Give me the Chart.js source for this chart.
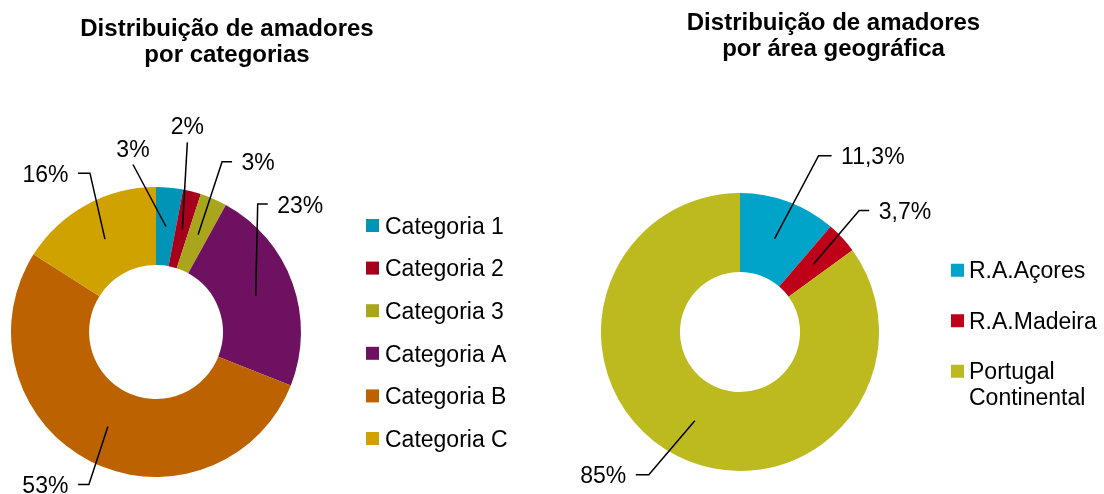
<!DOCTYPE html>
<html>
<head>
<meta charset="utf-8">
<script src="https://cdn.jsdelivr.net/npm/chart.js@4.4.1/dist/chart.umd.min.js"></script>
<style>
  html, body { margin: 0; padding: 0; background: #fff; overflow: hidden; }
  #wrap { position: relative; width: 1104px; height: 494px; overflow: hidden; }
  canvas { position: absolute; top: 0; }
  #catChart { left: -106px; }
  #geoChart { left: 563px; }
</style>
</head>
<body>
<div id="wrap">
  <canvas id="catChart" width="666" height="494"></canvas>
  <canvas id="geoChart" width="541" height="494"></canvas>
</div>
<script>
const FONT = "'Liberation Sans', Arial, sans-serif";

const catLabels = ["Categoria 1", "Categoria 2", "Categoria 3", "Categoria A", "Categoria B", "Categoria C"];
const catValues = [3, 2, 3, 23, 53, 16];
const catColors = ["#0095B7", "#A6001C", "#A9A61E", "#6E1160", "#BC6200", "#D0A200"];

const geoLabels = ["R.A.Açores", "R.A.Madeira", "Portugal Continental"];
const geoValues = [11.3, 3.7, 85];
const geoColors = ["#00A4C8", "#BE0018", "#BDBA20"];

// label leaders: elbow offset from the slice middle, then a horizontal tail (0 = label sits on top)
const catLeaders = [[-33, -62, 0], [5, -87, 0], [24, -73, 10], [2, -92, 10], [-19, 58, -11], [-15, -66, -12]];
const geoLeaders = [[44, -83, 13], [46, -54, 10], [-46, 54, -13]];

const pct = v => String(v).replace(".", ",") + "%";

const leaderLabels = {
  id: "leaders",
  afterDatasetsDraw(chart, args, opts) {
    const ctx = chart.ctx;
    const meta = chart.getDatasetMeta(0);
    const values = chart.data.datasets[0].data;
    ctx.save();
    ctx.strokeStyle = "#000";
    ctx.fillStyle = "#000";
    ctx.lineWidth = 1.5;
    ctx.font = "23px " + FONT;
    ctx.textBaseline = "alphabetic";
    meta.data.forEach((arc, i) => {
      const p = arc.getProps(["x", "y", "startAngle", "endAngle", "innerRadius", "outerRadius"], true);
      const mid = (p.startAngle + p.endAngle) / 2;
      const r = (p.innerRadius + p.outerRadius) / 2;
      const ax = p.x + Math.cos(mid) * r;
      const ay = p.y + Math.sin(mid) * r;
      const [dx, dy, tail] = opts.offsets[i];
      const ex = ax + dx, ey = ay + dy;
      ctx.beginPath();
      ctx.moveTo(ax, ay);
      ctx.lineTo(ex, ey);
      if (tail === 0) {
        ctx.stroke();
        ctx.textAlign = "center";
        ctx.fillText(pct(values[i]), ex, ey - 8);
      } else {
        ctx.lineTo(ex + tail, ey);
        ctx.stroke();
        const s = Math.sign(tail);
        ctx.textAlign = s > 0 ? "left" : "right";
        ctx.fillText(pct(values[i]), ex + tail + s * 9.5, ey + 8.7);
      }
    });
    ctx.restore();
  }
};

function wrapText(ctx, text, maxW) {
  if (ctx.measureText(text).width <= maxW) return [text];
  const lines = [];
  let cur = "";
  text.split(" ").forEach(w => {
    const t = cur ? cur + " " + w : w;
    if (cur && ctx.measureText(t).width > maxW) { lines.push(cur); cur = w; }
    else cur = t;
  });
  lines.push(cur);
  return lines;
}

function drawLegend(chart, box, opts) {
  const ctx = chart.ctx;
  const colors = chart.data.datasets[0].backgroundColor;
  ctx.save();
  ctx.font = "23px " + FONT;
  ctx.textBaseline = "alphabetic";
  ctx.textAlign = "left";
  const textX = box.left + opts.textX;
  const items = chart.data.labels.map(l => wrapText(ctx, l, box.right - textX));
  const span = items.reduce((s, lines) => s + (lines.length - 1) * opts.lineHeight, 0) + (items.length - 1) * opts.step;
  const area = chart.chartArea;
  let y = (area.top + area.bottom) / 2 - span / 2 + (opts.dy || 0);
  items.forEach((lines, i) => {
    ctx.fillStyle = colors[i];
    ctx.fillRect(box.left + opts.boxX, y - 6.5, 13, 13);
    ctx.fillStyle = "#000";
    lines.forEach((ln, j) => ctx.fillText(ln, textX, y + j * opts.lineHeight + 8.2));
    y += (lines.length - 1) * opts.lineHeight + opts.step;
  });
  ctx.restore();
}

// legend (and an optional left spacer) as layout boxes, so the title stays centred over the whole canvas
const sideLegend = {
  id: "sideLegend",
  start(chart, args, opts) {
    const box = {
      position: "right",
      weight: 0,
      fullSize: false,
      options: {},
      isHorizontal: () => false,
      update(maxW, maxH) { this.width = opts.width; this.height = maxH; },
      draw() { drawLegend(chart, this, opts); }
    };
    Chart.layouts.addBox(chart, box);
    if (opts.leftSpace) {
      Chart.layouts.addBox(chart, {
        position: "left",
        weight: 0,
        fullSize: false,
        options: {},
        isHorizontal: () => false,
        update(maxW, maxH) { this.width = opts.leftSpace; this.height = maxH; },
        draw() {}
      });
    }
  }
};

function makeDoughnut(canvasId, labels, values, colors, cfg) {
  return new Chart(document.getElementById(canvasId), {
    type: "doughnut",
    data: {
      labels: labels,
      datasets: [{
        data: values,
        backgroundColor: colors,
        borderWidth: 0,
        radius: cfg.radius,
        cutout: cfg.cutout
      }]
    },
    options: {
      responsive: false,
      animation: false,
      events: [],
      plugins: {
        legend: { display: false },
        tooltip: { enabled: false },
        title: {
          display: true,
          text: cfg.title,
          color: "#000",
          font: { family: FONT, size: 24, weight: "bold", lineHeight: 26 / 24 },
          padding: cfg.titlePad
        },
        leaders: { offsets: cfg.leaders },
        sideLegend: cfg.legend
      }
    },
    plugins: [leaderLabels, sideLegend]
  });
}

makeDoughnut("catChart", catLabels, catValues, catColors, {
  radius: 145,
  cutout: 72,
  title: ["Distribuição de amadores", "por categorias"],
  titlePad: { top: 16, bottom: 102 },
  leaders: catLeaders,
  legend: { width: 248, leftSpace: 106, boxX: 54, textX: 73, step: 42.6, lineHeight: 25.5 }
});

makeDoughnut("geoChart", geoLabels, geoValues, geoColors, {
  radius: 139,
  cutout: 70,
  title: ["Distribuição de amadores", "por área geográfica"],
  titlePad: { top: 10.5, bottom: 107.5 },
  leaders: geoLeaders,
  legend: { width: 187, boxX: 34, textX: 52, step: 50.5, lineHeight: 25.5, dy: 1.5 }
});
</script>
</body>
</html>
